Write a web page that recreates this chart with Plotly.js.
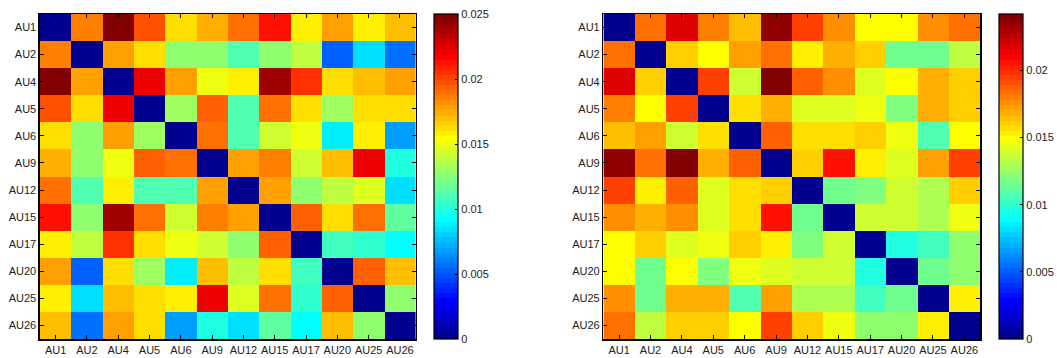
<!DOCTYPE html>
<html>
<head>
<meta charset="utf-8">
<script src="https://cdn.plot.ly/plotly-3.0.1.min.js"></script>
<style>
html,body{margin:0;padding:0;background:#fff;}
#chart{width:1057px;height:358px;}
</style>
</head>
<body>
<div id="chart"></div>
<script>
// ---- data ----
const labels = ["AU1","AU2","AU4","AU5","AU6","AU9","AU12","AU15","AU17","AU20","AU25","AU26"];

const leftValues = [
  [0,      0.01875,0.025,  0.0199, 0.0161, 0.0172, 0.0188, 0.0214, 0.0159, 0.0177, 0.0159, 0.0169],
  [0.01875,0,      0.0176, 0.0161, 0.0125, 0.0125, 0.0113, 0.0125, 0.0140, 0.0053, 0.0085, 0.0056],
  [0.025,  0.0176, 0,      0.0222, 0.0179, 0.0149, 0.0158, 0.0242, 0.0206, 0.0163, 0.0170, 0.0177],
  [0.0199, 0.0161, 0.0222, 0,      0.0129, 0.0194, 0.0113, 0.0189, 0.0164, 0.0129, 0.0162, 0.0161],
  [0.0161, 0.0125, 0.0179, 0.0129, 0,      0.0188, 0.0110, 0.0143, 0.0151, 0.0088, 0.0157, 0.0068],
  [0.0172, 0.0125, 0.0149, 0.0194, 0.0188, 0,      0.0179, 0.0184, 0.0143, 0.0170, 0.0219, 0.0101],
  [0.0188, 0.0113, 0.0158, 0.0113, 0.0110, 0.0179, 0,      0.0179, 0.0125, 0.0140, 0.0148, 0.0085],
  [0.0214, 0.0125, 0.0242, 0.0189, 0.0143, 0.0184, 0.0179, 0,      0.0192, 0.0161, 0.0188, 0.0116],
  [0.0159, 0.0140, 0.0206, 0.0164, 0.0151, 0.0143, 0.0125, 0.0192, 0,      0.0106, 0.0105, 0.0090],
  [0.0177, 0.0053, 0.0163, 0.0129, 0.0088, 0.0170, 0.0140, 0.0161, 0.0106, 0,      0.0192, 0.0170],
  [0.0159, 0.0085, 0.0170, 0.0162, 0.0157, 0.0219, 0.0148, 0.0188, 0.0105, 0.0192, 0,      0.0128],
  [0.0169, 0.0056, 0.0177, 0.0161, 0.0068, 0.0101, 0.0085, 0.0116, 0.0090, 0.0170, 0.0128, 0]
];

const rightValues = [
  [0,      0.0182, 0.0219, 0.0179, 0.0163, 0.0235, 0.0193, 0.0176, 0.0148, 0.0148, 0.0176, 0.0183],
  [0.0182, 0,      0.0162, 0.0148, 0.0172, 0.0182, 0.0153, 0.0169, 0.0160, 0.0114, 0.0114, 0.0136],
  [0.0219, 0.0162, 0,      0.0196, 0.0137, 0.0242, 0.0186, 0.0176, 0.0143, 0.0148, 0.0169, 0.0161],
  [0.0179, 0.0148, 0.0196, 0,      0.0156, 0.0170, 0.0141, 0.0141, 0.0144, 0.0119, 0.0169, 0.0161],
  [0.0163, 0.0172, 0.0137, 0.0156, 0,      0.0186, 0.0156, 0.0156, 0.0161, 0.0144, 0.0106, 0.0148],
  [0.0235, 0.0182, 0.0242, 0.0170, 0.0186, 0,      0.0161, 0.0205, 0.0153, 0.0141, 0.0171, 0.0196],
  [0.0193, 0.0153, 0.0186, 0.0141, 0.0156, 0.0161, 0,      0.0114, 0.0118, 0.0139, 0.0129, 0.0161],
  [0.0176, 0.0169, 0.0176, 0.0141, 0.0156, 0.0205, 0.0114, 0,      0.0139, 0.0139, 0.0129, 0.0144],
  [0.0148, 0.0160, 0.0143, 0.0144, 0.0161, 0.0153, 0.0118, 0.0139, 0,      0.0096, 0.0103, 0.0124],
  [0.0148, 0.0114, 0.0148, 0.0119, 0.0144, 0.0141, 0.0139, 0.0139, 0.0096, 0,      0.0114, 0.0121],
  [0.0176, 0.0114, 0.0169, 0.0169, 0.0106, 0.0171, 0.0129, 0.0129, 0.0103, 0.0114, 0,      0.0153],
  [0.0183, 0.0136, 0.0161, 0.0161, 0.0148, 0.0196, 0.0161, 0.0144, 0.0124, 0.0121, 0.0153, 0]
];

const leftTickVals = [0, 0.005, 0.01, 0.015, 0.02, 0.025];
const leftTickText = ["0", "0.005", "0.01", "0.015", "0.02", "0.025"];
const rightTickVals = [0, 0.005, 0.01, 0.015, 0.02];
const rightTickText = ["0", "0.005", "0.01", "0.015", "0.02"];
const leftMax = 0.025;
const rightMax = 0.0242;

// ---- MATLAB jet(64) as a stepped colorscale ----
function jet(m) {
  const n = Math.ceil(m / 4);
  const u = [];
  for (let i = 1; i <= n; i++) u.push(i / n);
  for (let i = 1; i <= n - 1; i++) u.push(1);
  for (let i = n; i >= 1; i--) u.push(i / n);
  const gOff = Math.ceil(n / 2) - (m % 4 === 1 ? 1 : 0);
  const J = [];
  for (let i = 0; i < m; i++) J.push([0, 0, 0]);
  for (let i = 0; i < u.length; i++) {
    const g = gOff + i + 1, r = g + n, b = g - n;
    if (g >= 1 && g <= m) J[g - 1][1] = u[i];
    if (r >= 1 && r <= m) J[r - 1][0] = u[i];
    if (b >= 1 && b <= m) J[b - 1][2] = u[i];
  }
  return J;
}
const J = jet(64);
const colorscale = [];
J.forEach((c, k) => {
  const col = 'rgb(' + c.map(v => Math.round(v * 255)).join(',') + ')';
  colorscale.push([k / 64, col]);
  colorscale.push([(k + 1) / 64, col]);
});

const W = 1057;
const font = {family: 'Liberation Sans, Arial, sans-serif', size: 11, color: '#222'};

function cb(x, tv, tt) {
  return {
    x: x, xanchor: 'left', y: 0.5, yanchor: 'middle',
    len: 1, lenmode: 'fraction', thickness: 24, thicknessmode: 'pixels',
    outlinecolor: '#000', outlinewidth: 1.2,
    tickmode: 'array', tickvals: tv, ticktext: tt,
    ticks: 'inside', ticklen: 3, tickcolor: '#000', tickwidth: 1,
    tickfont: font, xpad: 0, ypad: 0, borderwidth: 0
  };
}

const traces = [
  {
    type: 'heatmap', x: labels, y: labels, z: leftValues,
    zmin: 0, zmax: leftMax, colorscale: colorscale,
    xaxis: 'x', yaxis: 'y', xgap: 0, ygap: 0,
    colorbar: cb(434 / W, leftTickVals, leftTickText), hoverinfo: 'x+y+z'
  },
  {
    type: 'heatmap', x: labels, y: labels, z: rightValues,
    zmin: 0, zmax: rightMax, colorscale: colorscale,
    xaxis: 'x2', yaxis: 'y2',
    colorbar: cb(999 / W, rightTickVals, rightTickText), hoverinfo: 'x+y+z'
  }
];

function xax(d0, d1, anchor) {
  return {
    domain: [d0, d1], anchor: anchor, type: 'category',
    showline: true, linecolor: '#000', linewidth: 1.5, mirror: 'ticks',
    ticks: 'inside', ticklen: 4, tickcolor: '#000', tickwidth: 1,
    tickfont: font, showgrid: false, zeroline: false, automargin: false,
    fixedrange: true
  };
}
function yax(anchor) {
  return {
    domain: [0, 1], anchor: anchor, type: 'category', autorange: 'reversed',
    showline: true, linecolor: '#000', linewidth: 1.5, mirror: 'ticks',
    ticks: 'inside', ticklen: 4, tickcolor: '#000', tickwidth: 1,
    tickfont: font, showgrid: false, zeroline: false, automargin: false,
    fixedrange: true
  };
}

const layout = {
  width: 1057, height: 358,
  margin: {l: 0, r: 0, t: 14, b: 19, pad: 0},
  paper_bgcolor: '#fff', plot_bgcolor: '#fff',
  showlegend: false,
  font: font,
  xaxis: xax(40 / W, 416 / W, 'y'),
  yaxis: yax('x'),
  xaxis2: xax(604 / W, 981 / W, 'y2'),
  yaxis2: yax('x2')
};

Plotly.newPlot('chart', traces, layout, {displayModeBar: false, staticPlot: true});
</script>
</body>
</html>
